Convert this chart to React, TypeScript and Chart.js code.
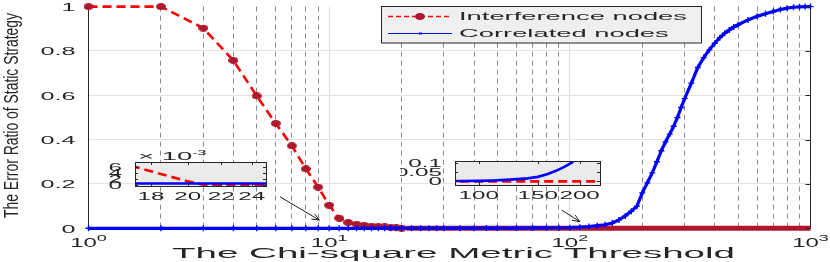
import React, { useEffect, useRef } from 'react';
import { Chart, registerables } from 'chart.js';

Chart.register(...registerables);

// ---------------- data ----------------
const interferenceX = [1, 2, 3, 4, 5, 6, 7, 8, 9, 10, 11, 12, 13, 14, 15, 16, 17, 18, 19, 20, 21, 22, 23, 24, 25, 26, 27, 28, 29, 30, 40, 50, 60, 70, 80, 90, 100, 150, 200, 300, 400, 500, 600, 700, 800, 900, 1000];
const interferenceY = [1, 1, 0.903, 0.757, 0.597, 0.473, 0.372, 0.268, 0.186, 0.104, 0.046, 0.026, 0.018, 0.013, 0.01, 0.008, 0.0063, 0.0045, 0.0028, 0.0012, 0, 0, 0, 0, 0, 0, 0, 0, 0, 0, 0, 0, 0, 0, 0, 0, 0, 0, 0, 0, 0, 0, 0, 0, 0, 0, 0];

const correlatedX = [1, 2, 3, 4, 5, 6, 7, 8, 9, 10, 11, 12, 13, 14, 15, 16, 17, 18, 19, 20, 22, 24, 26, 28, 30, 35, 40, 45, 50, 60, 70, 80, 90, 100, 110, 120, 130, 140, 150, 160, 170, 180, 190, 200, 210, 220, 230, 240, 250, 260, 270, 280, 290, 300, 320, 340, 360, 380, 400, 420, 440, 460, 480, 500, 550, 600, 650, 700, 750, 800, 850, 900, 950, 1000];
const correlatedY = [0, 0, 0, 0, 0, 0, 0, 0, 0, 0, 0, 0, 0, 0, 0, 0, 0.0005, 0.0005, 0.0005, 0.0005, 0.0005, 0.0005, 0.0005, 0.0005, 0.0005, 0.0006, 0.0007, 0.0008, 0.001, 0.0012, 0.0015, 0.002, 0.0025, 0.003, 0.005, 0.008, 0.012, 0.016, 0.024, 0.038, 0.056, 0.077, 0.1, 0.16, 0.205, 0.25, 0.3, 0.35, 0.39, 0.425, 0.46, 0.5, 0.545, 0.585, 0.655, 0.725, 0.77, 0.805, 0.835, 0.86, 0.88, 0.895, 0.908, 0.918, 0.94, 0.956, 0.968, 0.978, 0.987, 0.993, 0.997, 0.999, 1, 1];

const seriesNames = ['Interference nodes', 'Correlated nodes'];
const xGridTicks = [1, 2, 3, 4, 5, 6, 7, 8, 9, 10, 20, 30, 40, 50, 60, 70, 80, 90, 100, 200, 300, 400, 500, 600, 700, 800, 900, 1000];
const xDecades = [1, 10, 100, 1000];
const xDecadeExp = ['0', '1', '2', '3'];
const yTickValues = [0, 0.2, 0.4, 0.6, 0.8, 1];
const yTickLabels = ['0', '0.2', '0.4', '0.6', '0.8', '1'];

const inset1XTicks = [18, 20, 22, 24];
const inset1YTicks = [0, 0.002, 0.004, 0.006];
const inset1YLabels = ['0', '2', '4', '6'];
const inset2XTicks = [100, 150, 200];
const inset2YTicks = [0, 0.05, 0.1];
const inset2YLabels = ['0', '0.05', '0.1'];

// arrows (annotation): [tailX, tailY, tipX, tipY] in data units
const arrows = [
  [6.25, 0.142, 9.1, 0.037],
  [92.5, 0.082, 110, 0.03],
];

const xTitle = 'The Chi-square Metric Threshold';
const yTitle = 'The Error Ratio of Static Strategy';

// ---------------- styling ----------------
const FONT = '"Liberation Sans", Arial, Helvetica, sans-serif';
const TXT = '#262626';
const RED = '#ff0000';
const DARK_RED = '#b0172d';
const BLUE = '#0000ff';

function wtext(ctx: CanvasRenderingContext2D, text: string, x: number, y: number, size: number, sx: number, align: string, baseline: CanvasTextBaseline = 'alphabetic', color = TXT) {
  ctx.save();
  ctx.font = `${size}px ${FONT}`;
  ctx.fillStyle = color;
  ctx.textBaseline = baseline;
  ctx.textAlign = 'left';
  const w = ctx.measureText(text).width * sx;
  let left = x;
  if (align === 'center') left = x - w / 2;
  else if (align === 'right') left = x - w;
  ctx.translate(left, y);
  ctx.scale(sx, 1);
  ctx.fillText(text, 0, 0);
  ctx.restore();
  return w;
}

function measure(ctx: CanvasRenderingContext2D, text: string, size: number) {
  ctx.save();
  ctx.font = `${size}px ${FONT}`;
  const w = ctx.measureText(text).width;
  ctx.restore();
  return w;
}

function drawPow(ctx: CanvasRenderingContext2D, base: string, exp: string, cx: number, baseY: number, size: number, supSize: number, sx: number, rise: number) {
  const wb = measure(ctx, base, size) * sx;
  const we = measure(ctx, exp, supSize) * sx;
  const left = cx - (wb + we) / 2;
  wtext(ctx, base, left, baseY, size, sx, 'left');
  wtext(ctx, exp, left + wb, baseY - rise, supSize, sx, 'left');
}

function makeMarker(w: number, h: number, color: string) {
  const c = document.createElement('canvas');
  c.width = w;
  c.height = h;
  const g = c.getContext('2d')!;
  g.fillStyle = color;
  g.beginPath();
  g.ellipse(w / 2, h / 2, w / 2, h / 2, 0, 0, Math.PI * 2);
  g.fill();
  return c;
}

const isTail = (c: any) => c.p0.parsed.y === 0 && c.p1.parsed.y === 0;

export default function App() {
  const mainRef = useRef<HTMLCanvasElement>(null);
  const in1Ref = useRef<HTMLCanvasElement>(null);
  const in2Ref = useRef<HTMLCanvasElement>(null);

  useEffect(() => {
    const charts: Chart[] = [];
    const marker = makeMarker(10, 7, DARK_RED);
    const redPts = interferenceX.map((x, i) => ({ x, y: interferenceY[i] }));
    const bluePts = correlatedX.map((x, i) => ({ x, y: correlatedY[i] }));

    const mainDecor = {
      id: 'mainDecor',
      afterDraw(chart: any) {
        const { ctx, chartArea: a, scales } = chart;
        const xs = scales.x;
        const ys = scales.y;
        // inward ticks on right axis
        ctx.save();
        ctx.strokeStyle = '#262626';
        ctx.lineWidth = 1;
        for (const v of yTickValues) {
          const py = Math.round(ys.getPixelForValue(v)) + 0.5;
          ctx.beginPath();
          ctx.moveTo(a.right - 5, py);
          ctx.lineTo(a.right, py);
          ctx.stroke();
        }
        ctx.restore();
        // y tick labels
        yTickValues.forEach((v, i) => {
          const py = ys.getPixelForValue(v);
          wtext(ctx, yTickLabels[i], a.left - 13, py + 1.5, 10.5, 2.4, 'right', 'middle');
        });
        // x tick labels
        xDecades.forEach((v, i) => {
          const px = xs.getPixelForValue(v);
          drawPow(ctx, '10', xDecadeExp[i], px, 247, 12, 9, 2.0, 6);
        });
        // x title
        const tw = measure(ctx, xTitle, 15.5);
        wtext(ctx, xTitle, 453.5, 258, 15.5, 563 / tw, 'center');
        // y title (rotated, condensed)
        ctx.save();
        ctx.translate(17.5, 115.5);
        ctx.rotate(-Math.PI / 2);
        const yw = measure(ctx, yTitle, 19.5);
        ctx.scale(205 / yw, 1);
        ctx.font = `19.5px ${FONT}`;
        ctx.fillStyle = TXT;
        ctx.textAlign = 'center';
        ctx.textBaseline = 'alphabetic';
        ctx.fillText(yTitle, 0, 0);
        ctx.restore();

        // arrows
        ctx.save();
        ctx.strokeStyle = '#000';
        ctx.lineWidth = 0.9;
        for (const [x0, y0, x1, y1] of arrows) {
          const ax = xs.getPixelForValue(x0), ay = ys.getPixelForValue(y0);
          const bx = xs.getPixelForValue(x1), by = ys.getPixelForValue(y1);
          const ang = Math.atan2(by - ay, bx - ax);
          ctx.beginPath();
          ctx.moveTo(ax, ay);
          ctx.lineTo(bx, by);
          ctx.moveTo(bx - 8 * Math.cos(ang - 0.4), by - 8 * Math.sin(ang - 0.4));
          ctx.lineTo(bx, by);
          ctx.lineTo(bx - 8 * Math.cos(ang + 0.4), by - 8 * Math.sin(ang + 0.4));
          ctx.stroke();
        }
        ctx.restore();

        // legend
        const L = { x: 381.5, y: 6.5, w: 320, h: 36.5 };
        ctx.save();
        ctx.fillStyle = '#efefef';
        ctx.fillRect(L.x, L.y, L.w, L.h);
        ctx.strokeStyle = '#262626';
        ctx.lineWidth = 1;
        ctx.strokeRect(L.x, L.y, L.w, L.h);
        // row 1
        ctx.strokeStyle = RED;
        ctx.lineWidth = 1.5;
        ctx.setLineDash([5, 3]);
        ctx.beginPath();
        ctx.moveTo(388, 16.5);
        ctx.lineTo(452, 16.5);
        ctx.stroke();
        ctx.setLineDash([]);
        ctx.drawImage(marker, 420 - 5, 16.5 - 3.5);
        // row 2
        ctx.strokeStyle = BLUE;
        ctx.lineWidth = 1;
        ctx.beginPath();
        ctx.moveTo(388, 33.5);
        ctx.lineTo(452, 33.5);
        ctx.stroke();
        ctx.fillStyle = BLUE;
        ctx.fillRect(419, 32.5, 3, 2);
        ctx.restore();
        const lw = measure(ctx, seriesNames[0], 11);
        const lsx = 228 / lw;
        wtext(ctx, seriesNames[0], 459, 17, 11, lsx, 'left', 'middle');
        wtext(ctx, seriesNames[1], 459, 34, 11, lsx, 'left', 'middle');
      },
    };

    const isDecade = (v: number) => xDecades.includes(v);

    const main = new Chart(mainRef.current!, {
      type: 'line',
      data: {
        datasets: [
          {
            label: seriesNames[1],
            data: bluePts,
            borderColor: BLUE,
            backgroundColor: BLUE,
            borderWidth: 3.2,
            pointStyle: 'cross',
            pointRadius: 3,
            pointBorderWidth: 1.4,
            pointBorderColor: BLUE,
            fill: false,
            tension: 0,
            clip: false,
            order: 0,
          } as any,
          {
            label: seriesNames[0],
            data: redPts,
            borderColor: RED,
            borderWidth: 2.6,
            borderDash: [9, 5],
            pointStyle: marker,
            pointRadius: (c: any) => (c.raw && c.raw.x <= 20 ? 4 : 0),
            fill: false,
            tension: 0,
            clip: false,
            order: 1,
            segment: {
              borderColor: (c: any) => (isTail(c) ? DARK_RED : undefined),
              borderWidth: (c: any) => (isTail(c) ? 5 : undefined),
              borderDash: (c: any) => (isTail(c) ? [] : undefined),
            },
          } as any,
        ],
      },
      options: {
        responsive: false,
        animation: false,
        devicePixelRatio: 1,
        events: [],
        layout: { padding: { left: 88.5, right: 19.5, top: 6, bottom: 33.7 } },
        plugins: { legend: { display: false }, tooltip: { enabled: false } },
        scales: {
          x: {
            type: 'logarithmic',
            min: 1,
            max: 1000,
            afterBuildTicks: (s: any) => {
              s.ticks = xGridTicks.map((v) => ({ value: v, major: isDecade(v) }));
            },
            ticks: { display: false },
            grid: {
              drawTicks: false,
              lineWidth: 1,
              color: (c: any) => (c.tick && isDecade(c.tick.value) ? '#dcdcdc' : '#8a8a8a'),
            },
            border: {
              display: true,
              color: '#262626',
              width: 1,
              dash: (c: any) => (c.tick && !isDecade(c.tick.value) ? [5, 4] : []),
            },
          } as any,
          y: {
            type: 'linear',
            min: 0,
            max: 1,
            ticks: { display: false, stepSize: 0.2 },
            grid: {
              drawTicks: false,
              lineWidth: 1,
              color: (c: any) => (c.tick && c.tick.value > 0 && c.tick.value < 1 ? '#e3e3e3' : 'rgba(0,0,0,0)'),
            },
            border: { display: true, color: '#262626', width: 1 },
          },
          y2: {
            type: 'linear',
            position: 'right',
            min: 0,
            max: 1,
            ticks: { display: false },
            grid: { display: false, drawTicks: false },
            border: { display: true, color: '#262626', width: 1 },
          },
        },
      },
      plugins: [mainDecor],
    } as any);
    charts.push(main);

    function makeInset(canvas: HTMLCanvasElement, cfg: any) {
      const decor = {
        id: 'insetDecor',
        beforeDraw(chart: any) {
          const { ctx, chartArea: a } = chart;
          ctx.save();
          ctx.fillStyle = '#ebebeb';
          ctx.fillRect(a.left, a.top, a.right - a.left, a.bottom - a.top);
          ctx.restore();
        },
        afterDraw(chart: any) {
          const { ctx, chartArea: a, scales } = chart;
          ctx.save();
          ctx.strokeStyle = '#262626';
          ctx.lineWidth = 1;
          ctx.strokeRect(Math.round(a.left) + 0.5, Math.round(a.top) + 0.5, Math.round(a.right - a.left), Math.round(a.bottom - a.top));
          ctx.beginPath();
          for (const v of cfg.xTicks) {
            const px = Math.round(scales.x.getPixelForValue(v)) + 0.5;
            ctx.moveTo(px, a.top);
            ctx.lineTo(px, a.top + 3);
            ctx.moveTo(px, a.bottom);
            ctx.lineTo(px, a.bottom - 3);
          }
          for (const v of cfg.yTicks) {
            const py = Math.round(scales.y.getPixelForValue(v)) + 0.5;
            ctx.moveTo(a.left, py);
            ctx.lineTo(a.left + 3, py);
            ctx.moveTo(a.right, py);
            ctx.lineTo(a.right - 3, py);
          }
          ctx.stroke();
          ctx.restore();
          cfg.xTicks.forEach((v: number) => {
            wtext(ctx, String(v), scales.x.getPixelForValue(v), a.bottom + 14, 11, 2.2, 'center');
          });
          cfg.yTicks.forEach((v: number, i: number) => {
            wtext(ctx, cfg.yLabels[i], a.left - 13, scales.y.getPixelForValue(v) + 1, 11, 2.2, 'right', 'middle');
          });
          if (cfg.multiplier) {
            const w = wtext(ctx, '\u00d7 10', a.left + 3, a.top - 2, 11, 2.5, 'left');
            wtext(ctx, '-3', a.left + 3 + w, a.top - 7, 8, 2.0, 'left');
          }
        },
      };
      return new Chart(canvas, {
        type: 'line',
        data: {
          datasets: [
            { label: seriesNames[1], data: bluePts, borderColor: BLUE, borderWidth: 2.6, pointRadius: 0, tension: 0, order: 0 },
            { label: seriesNames[0], data: redPts, borderColor: RED, borderWidth: 2.6, borderDash: [9, 5], pointRadius: 0, tension: 0, order: 1 },
          ],
        },
        options: {
          responsive: false,
          animation: false,
          devicePixelRatio: 1,
          events: [],
          layout: { padding: cfg.padding },
          plugins: { legend: { display: false }, tooltip: { enabled: false } },
          scales: {
            x: { type: 'logarithmic', min: cfg.xMin, max: cfg.xMax, ticks: { display: false }, grid: { display: false }, border: { display: false } },
            y: { type: 'linear', min: cfg.yMin, max: cfg.yMax, ticks: { display: false }, grid: { display: false }, border: { display: false } },
          },
        },
        plugins: [decor],
      } as any);
    }

    // inset 1 canvas at (90,140) size 190x80 -> box (127,162)-(266,194)
    charts.push(
      makeInset(in1Ref.current!, {
        padding: { left: 37, top: 22, right: 14, bottom: 26 },
        xMin: 17.2,
        xMax: 25,
        yMin: -0.0003,
        yMax: 0.0075,
        xTicks: inset1XTicks,
        yTicks: inset1YTicks,
        yLabels: inset1YLabels,
        multiplier: true,
      })
    );
    // inset 2 canvas at (400,140) size 220x80 -> box (447,161)-(600,193)
    charts.push(
      makeInset(in2Ref.current!, {
        padding: { left: 47, top: 21, right: 20, bottom: 27 },
        xMin: 85,
        xMax: 230,
        yMin: -0.019,
        yMax: 0.108,
        xTicks: inset2XTicks,
        yTicks: inset2YTicks,
        yLabels: inset2YLabels,
        multiplier: false,
      })
    );

    return () => charts.forEach((c) => c.destroy());
  }, []);

  return (
    <div style={{ position: 'absolute', left: 0, top: 0, width: 830, height: 262, background: '#fff', overflow: 'hidden' }}>
      <canvas ref={mainRef} width={830} height={262} style={{ position: 'absolute', left: 0, top: 0, width: 830, height: 262 }} />
      <canvas ref={in1Ref} width={190} height={80} style={{ position: 'absolute', left: 90, top: 140, width: 190, height: 80 }} />
      <canvas ref={in2Ref} width={220} height={80} style={{ position: 'absolute', left: 400, top: 140, width: 220, height: 80 }} />
    </div>
  );
}
